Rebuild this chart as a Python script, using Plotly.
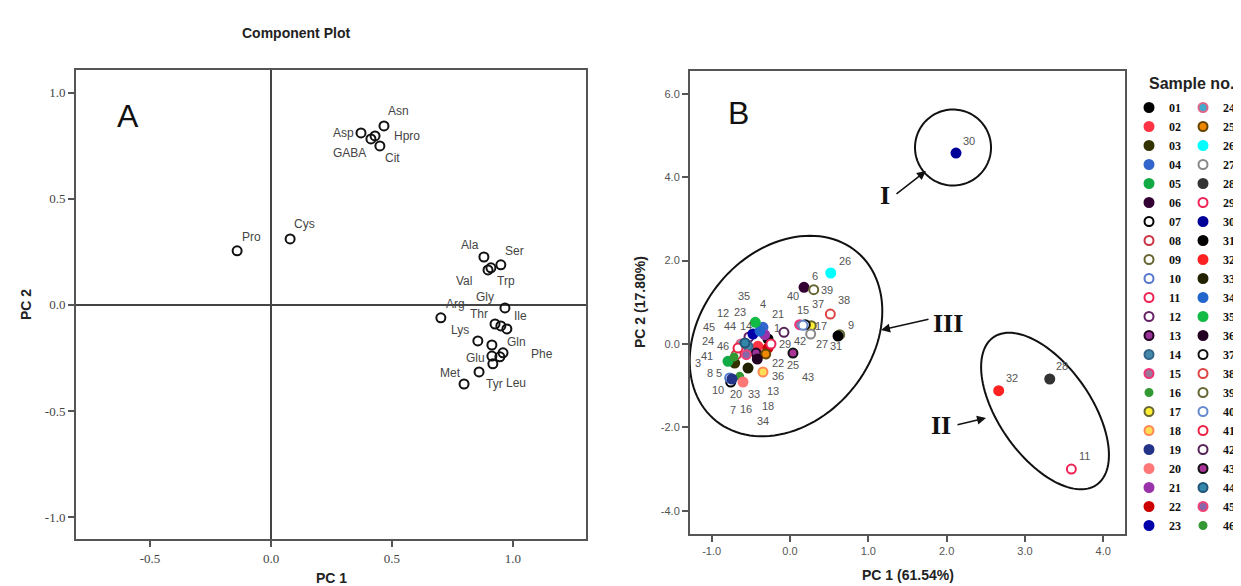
import numpy as np
import plotly.graph_objects as go

# ---------------- Panel A data (component loadings) ----------------
aa_names = ["Asn", "Asp", "Hpro", "GABA", "Cit", "Pro", "Cys", "Ala", "Ser", "Val", "Trp",
            "Gly", "Ile", "Arg", "Lys", "Thr", "Gln", "Phe", "Glu", "Met", "Tyr", "Leu", "", ""]
aa_pc1 = [0.467, 0.372, 0.430, 0.413, 0.450, -0.140, 0.079, 0.880, 0.950, 0.897, 0.909,
          0.967, 0.975, 0.702, 0.855, 0.926, 0.950, 0.959, 0.913, 0.798, 0.860, 0.917, 0.913, 0.946]
aa_pc2 = [0.844, 0.811, 0.797, 0.783, 0.750, 0.255, 0.311, 0.226, 0.189, 0.165, 0.175,
          -0.014, -0.113, -0.061, -0.170, -0.090, -0.099, -0.226, -0.241, -0.373, -0.316, -0.278, -0.189, -0.245]

# ---------------- Panel B data (sample scores) ----------------
sample_ids = ["%02d" % i for i in range(1, 47)]
s_pc1 = [-0.281, -0.409, -0.706, -0.345, -0.792, 0.179, -0.757, -0.686, 0.635, -0.770,
         3.593, -0.524, -0.434, -0.536, 0.124, -0.642, 0.272, -0.345, -0.741, -0.600,
         -0.323, -0.281, -0.473, -0.626, -0.310, 0.520, 0.264, 3.317, -0.243, 2.120,
         0.613, 2.665, -0.536, -0.383, -0.443, -0.418, 0.195, 0.515, 0.303, 0.166,
         -0.664, -0.077, 0.038, -0.575, -0.558, -0.715]
s_pc2 = [0.120, -0.055, -0.456, 0.400, -0.415, 1.360, -0.911, -0.257, 0.223, -0.815,
         -3.000, 0.168, -0.216, -0.055, 0.463, -0.775, 0.439, -0.671, -0.839, -0.911,
         0.223, -0.096, 0.240, 0.000, -0.240, 1.703, 0.240, -0.839, 0.000, 4.580,
         0.192, -1.120, -0.576, 0.312, 0.520, -0.360, 0.463, 0.719, 1.302, 0.448,
         -0.096, 0.281, -0.216, 0.024, -0.257, -0.312]
# point labels as printed in the chart ("" = hidden by overlap)
s_labels = ["1", "", "3", "4", "5", "6", "7", "8", "9", "10", "11", "12", "13", "14", "15", "16",
            "17", "18", "", "20", "21", "22", "23", "24", "25", "26", "27", "28", "29", "30",
            "31", "32", "33", "34", "35", "36", "37", "38", "39", "40", "41", "42", "43", "44",
            "45", "46"]

# tick labels
a_xticks = [-0.5, 0.0, 0.5, 1.0]
a_xticktext = ["-0.5", "0.0", "0.5", "1.0"]
a_yticks = [-1.0, -0.5, 0.0, 0.5, 1.0]
a_yticktext = ["-1.0", "-0.5", "0.0", "0.5", "1.0"]
b_xticks = [-1.0, 0.0, 1.0, 2.0, 3.0, 4.0]
b_xticktext = ["-1.0", "0.0", "1.0", "2.0", "3.0", "4.0"]
b_yticks = [-4.0, -2.0, 0.0, 2.0, 4.0, 6.0]
b_yticktext = ["-4.0", "-2.0", "0.0", "2.0", "4.0", "6.0"]

# ---------------- styles ----------------
aa_label_shift = [(15, 15), (-18, 0), (32, 0), (-21, -14), (13, -12), (14, 14), (14, 15),
                  (-14, 12), (14, 14), (-24, -11), (15, -13), (-20, 11), (14, 13), (15, 14),
                  (-18, 11), (-16, 10), (16, -16), (39, -1), (-16, -2), (-14, 11), (15, -12),
                  (23, -19), (0, 0), (0, 0)]
s_label_shift = [(9, 11), (0, 0), (-37, 0), (0, 23), (-9, -12), (11, 11), (2, -28), (-26, -18),
                 (11, 10), (-12, -12), (13, 13), (-26, 24), (17, -38), (-2, 20), (3, 15),
                 (6, -33), (10, 0), (5, -34), (0, 0), (-7, -12), (13, 21), (10, -15), (-13, 22),
                 (-33, 3), (27, -11), (14, 12), (11, -10), (12, 13), (14, 0), (13, 12),
                 (-2, -10), (13, 13), (6, -26), (3, -90), (-11, 26), (21, -17), (13, 21),
                 (14, 14), (13, 0), (-10, 29), (-31, -8), (16, -9), (15, -24), (-15, 17),
                 (-37, 28), (-11, 11)]
s_fill = ["#000000", "#ff3344", "#333300", "#3366cc", "#11aa44", "#330033", "#ffffff", "#ffffff",
          "#ffffff", "#ffffff", "#ffffff", "#ffffff", "#993399", "#4488aa", "#997799", "#339933",
          "#ffee33", "#ffdd55", "#223388", "#ff7777", "#9933aa", "#cc0000", "#0000aa",
          "#44aacc", "#ee8800", "#00ffff", "#ffffff", "#333333", "#ffffff", "#000099", "#000000",
          "#ff2222", "#222200", "#2266cc", "#11bb44", "#220022", "#ffffff", "#ffffff", "#ffffff",
          "#ffffff", "#ffffff", "#ffffff", "#aa3399", "#3388aa", "#8866aa", "#339933"]
s_line = ["#000000", "#ff3344", "#333300", "#3366cc", "#11aa44", "#330033", "#000000", "#cc3344",
          "#666633", "#5577cc", "#ee2255", "#662266", "#220022", "#336688", "#ee3377", "#339933",
          "#666633", "#ff8855", "#223388", "#ff7777", "#9933aa", "#cc0000", "#0000aa",
          "#dd6688", "#664400", "#00ffff", "#888888", "#333333", "#ee2255", "#000099", "#000000",
          "#ff2222", "#222200", "#2266cc", "#11bb44", "#220022", "#111111", "#dd4444", "#666633",
          "#6688cc", "#ee2244", "#552255", "#111111", "#225577", "#ee4477", "#339933"]
s_size = [9] * 46
s_size[15] = 7
s_size[45] = 7

W, H = 1241, 586
def px(v):
    return v / W
def py(v):
    return 1 - v / H

fig = go.Figure()

# Panel A points
fig.add_trace(go.Scatter(
    x=aa_pc1, y=aa_pc2, mode="markers", xaxis="x", yaxis="y", showlegend=False,
    marker=dict(symbol="circle-open", size=9, color="#111111", line=dict(width=2, color="#111111")),
    hoverinfo="skip"))

# Panel B points
for i, sid in enumerate(sample_ids):
    fig.add_trace(go.Scatter(
        x=[s_pc1[i]], y=[s_pc2[i]], mode="markers", name=sid,
        xaxis="x2", yaxis="y2",
        legend="legend" if i < 23 else "legend2",
        marker=dict(symbol="circle", size=s_size[i], color=s_fill[i],
                    line=dict(width=2, color=s_line[i]))))

annotations = []
for i, n in enumerate(aa_names):
    if not n:
        continue
    dx, dy = aa_label_shift[i]
    annotations.append(dict(x=aa_pc1[i], y=aa_pc2[i], xref="x", yref="y", text=n, showarrow=False,
                            xshift=dx, yshift=dy,
                            font=dict(family="Liberation Sans, Arial", size=12, color="#444444")))
for i, lab in enumerate(s_labels):
    if not lab:
        continue
    dx, dy = s_label_shift[i]
    annotations.append(dict(x=s_pc1[i], y=s_pc2[i], xref="x2", yref="y2", text=lab, showarrow=False,
                            xshift=dx, yshift=dy,
                            font=dict(family="Liberation Sans, Arial", size=11, color="#555555")))

title_font = dict(family="Liberation Sans, Arial", size=14, color="#222222", weight="bold")
def paper_text(xp, yp, text, font, angle=0, xanchor="center"):
    return dict(x=px(xp), y=py(yp), xref="paper", yref="paper", text=text, showarrow=False,
                xanchor=xanchor, yanchor="middle", textangle=angle, font=font)

annotations += [
    paper_text(288, 25, "Component Plot", title_font),
    paper_text(323, 570, "PC 1", title_font),
    paper_text(18, 297, "PC 2", title_font, angle=-90),
    paper_text(900, 567, "PC 1 (61.54%)", title_font),
    paper_text(632, 294, "PC 2 (17.80%)", title_font, angle=-90),
    paper_text(120, 108, "A", dict(family="Liberation Sans, Arial", size=32, color="#111111")),
    paper_text(730, 105, "B", dict(family="Liberation Sans, Arial", size=32, color="#111111")),
    paper_text(1139, 75, "Sample no.", dict(family="Liberation Sans, Arial", size=16, color="#222222",
                                              weight="bold"), xanchor="left"),
]

# Roman numeral group labels and arrows (panel B)
sx, sy = 78.3, 41.7  # pixels per unit on panel B axes
def bx(p):
    return (p - 782) / sx
def by(p):
    return (336 - p) / sy
roman_font = dict(family="Liberation Serif, Times New Roman", size=26, color="#111111", weight="bold")
for txt, (lx, ly) in [("I", (877, 187)), ("II", (933, 417)), ("III", (940, 315))]:
    annotations.append(dict(x=bx(lx), y=by(ly), xref="x2", yref="y2", text=txt, showarrow=False, font=roman_font))
for (tx, ty), (hx, hy) in [((887, 187), (918, 163)), ((922, 311), (873, 322)), ((948, 417), (978, 410))]:
    annotations.append(dict(x=bx(hx), y=by(hy), ax=bx(tx), ay=by(ty), xref="x2", yref="y2",
                            axref="x2", ayref="y2", text="", showarrow=True, arrowhead=2,
                            arrowsize=1.2, arrowwidth=1.5, arrowcolor="#111111"))

def ellipse_path(cxp, cyp, a, b, ang):
    t = np.linspace(0, 2 * np.pi, 120)
    th = np.radians(ang)
    dxp = a * np.cos(t) * np.cos(th) - b * np.sin(t) * np.sin(th)
    dyp = a * np.cos(t) * np.sin(th) + b * np.sin(t) * np.cos(th)
    xs = bx(cxp) + dxp / sx
    ys = by(cyp) + dyp / sy
    pts = ["%.4f,%.4f" % (x, y) for x, y in zip(xs, ys)]
    return "M " + " L ".join(pts) + " Z"

shapes = []
for (cxp, cyp, a, b, ang) in [(945, 139.5, 38, 38, 0), (778, 328, 110, 85, 49.6), (1037, 403, 90, 46, -55)]:
    shapes.append(dict(type="path", xref="x2", yref="y2", path=ellipse_path(cxp, cyp, a, b, ang),
                       line=dict(color="#111111", width=2)))

axis_common = dict(showline=True, mirror=True, linecolor="#555555", linewidth=2, ticks="outside",
                   ticklen=6, tickwidth=2, tickcolor="#555555", showgrid=False)

legend_common = dict(xanchor="left", yanchor="top", bgcolor="rgba(0,0,0,0)", itemwidth=30,
                     tracegroupgap=0, itemclick=False,
                     font=dict(family="Liberation Serif, Times New Roman", size=12, color="#111111", weight="bold"))

fig.update_layout(
    width=W, height=H, margin=dict(l=0, r=0, t=0, b=0),
    paper_bgcolor="white", plot_bgcolor="white",
    xaxis=dict(domain=[px(68), px(578)], range=[-0.806, 1.302], tickvals=a_xticks, ticktext=a_xticktext,
               zeroline=True, zerolinecolor="#444444", zerolinewidth=1.5,
               tickfont=dict(family="Liberation Serif, Times New Roman", size=13, color="#444444"),
               anchor="y", **axis_common),
    yaxis=dict(domain=[py(531), py(62)], range=[-1.104, 1.108], tickvals=a_yticks, ticktext=a_yticktext,
               zeroline=True, zerolinecolor="#444444", zerolinewidth=1.5,
               tickfont=dict(family="Liberation Serif, Times New Roman", size=13, color="#444444"),
               anchor="x", **axis_common),
    xaxis2=dict(domain=[px(682), px(1117)], range=[-1.277, 4.278], tickvals=b_xticks, ticktext=b_xticktext,
                zeroline=False, tickfont=dict(family="Liberation Sans, Arial", size=11, color="#555555"),
                anchor="y2", **axis_common),
    yaxis2=dict(domain=[py(526), py(63)], range=[-4.556, 6.547], tickvals=b_yticks, ticktext=b_yticktext,
                zeroline=False, tickfont=dict(family="Liberation Sans, Arial", size=11, color="#555555"),
                anchor="x2", **axis_common),
    legend=dict(x=px(1121), y=py(85), **legend_common),
    legend2=dict(x=px(1175), y=py(85), **legend_common),
    annotations=annotations,
    shapes=shapes,
)

fig.write_html("out.html")
